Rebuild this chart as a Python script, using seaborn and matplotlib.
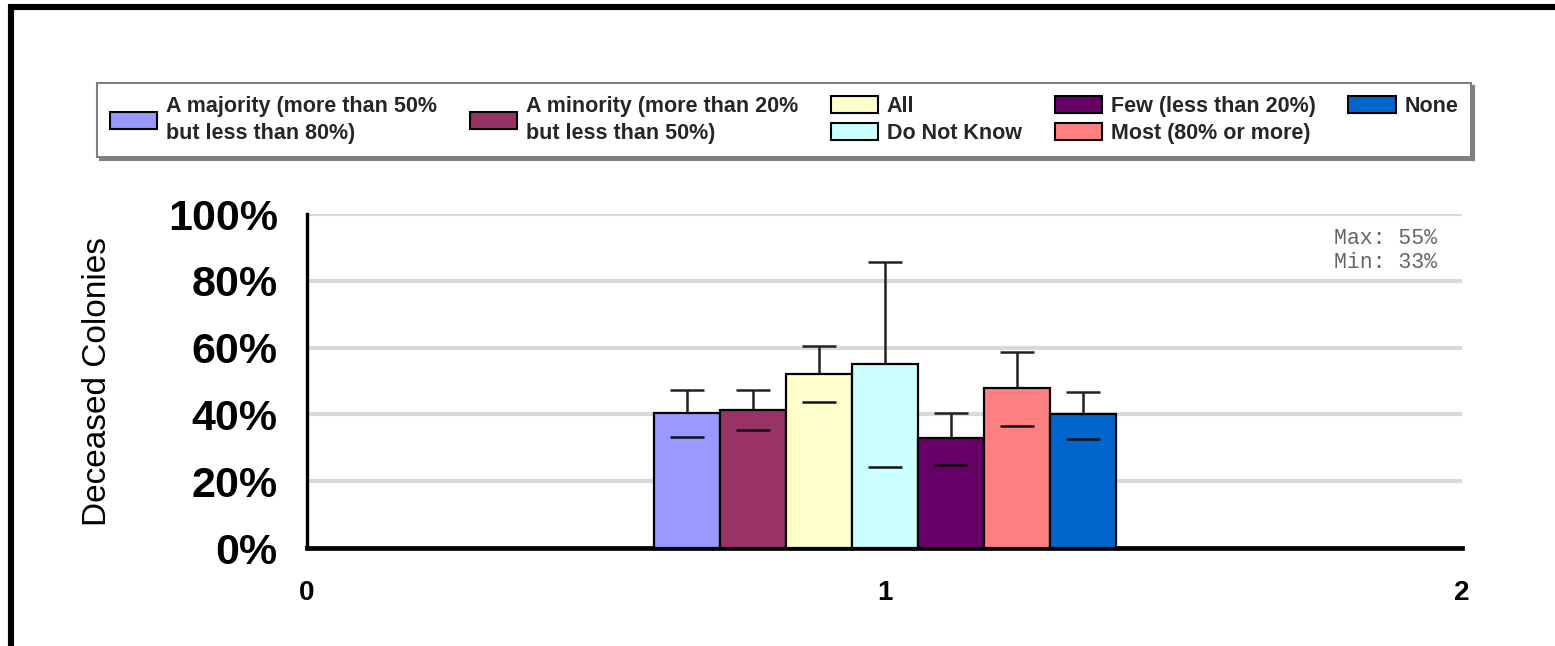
import numpy as np
import pandas as pd
import matplotlib
matplotlib.use("Agg")
import matplotlib.pyplot as plt
import matplotlib.patches as mpatches
from matplotlib.lines import Line2D
import seaborn as sns

# ---------------- data ----------------
categories = [
    "A majority (more than 50%\nbut less than 80%)",
    "A minority (more than 20%\nbut less than 50%)",
    "All",
    "Do Not Know",
    "Few (less than 20%)",
    "Most (80% or more)",
    "None",
]
x_values = [1, 1, 1, 1, 1, 1, 1]
values = [40.5, 41.2, 52.0, 55.0, 32.8, 47.9, 40.0]
err_low = [33.3, 35.2, 43.6, 24.3, 24.9, 36.4, 32.7]
err_high = [47.2, 47.2, 60.4, 85.5, 40.5, 58.6, 46.6]
colors = ["#9999FF", "#993366", "#FFFFCC", "#CCFFFF", "#660066", "#FF8080", "#0066CC"]
y_ticks = [0, 20, 40, 60, 80, 100]
x_ticks = [0, 1, 2]

df = pd.DataFrame({"x": x_values, "value": values, "cat": categories})

sns.set_style("white")
plt.rcParams["font.family"] = ["Liberation Sans", "DejaVu Sans"]

fig = plt.figure(figsize=(15.55, 6.46), dpi=100)
ax = fig.add_axes([307 / 1555, 1 - 548 / 646, 1155 / 1555, 334 / 646])

sns.barplot(data=df, x="x", y="value", hue="cat", hue_order=categories,
            palette=colors, native_scale=True, errorbar=None, saturation=1,
            edgecolor="black", linewidth=1.6, legend=False, ax=ax, zorder=3)

bars = sorted(ax.patches, key=lambda p: p.get_x())
centers = np.array([b.get_x() + b.get_width() / 2 for b in bars])
vals = np.array(values)
lo = vals - np.array(err_low)
hi = np.array(err_high) - vals
ax.errorbar(centers, vals, yerr=[lo, hi], fmt="none", ecolor="#222222",
            elinewidth=1.8, capsize=12, capthick=1.8, zorder=2)
ax.plot(centers, err_low, linestyle="none", marker="_", markersize=24,
        markeredgewidth=1.8, color="#111111", zorder=4)

ax.set_xlim(0, 2)
ax.set_ylim(0, 100)
ax.set_xticks(x_ticks)
ax.set_xticklabels([str(t) for t in x_ticks], fontsize=20, fontweight="bold")
ax.set_yticks(y_ticks)
ax.set_yticklabels([f"{t}%" for t in y_ticks], fontsize=31, fontweight="bold")
ax.set_xlabel("")
ax.set_ylabel("Deceased Colonies", fontsize=24, color="black")
ax.yaxis.set_label_coords(-0.168, 0.5)

ax.set_axisbelow(True)
ax.yaxis.grid(True, color="#d9d9d9", linewidth=3)
ax.xaxis.grid(False)
for s in ["top", "right"]:
    ax.spines[s].set_visible(False)
ax.spines["left"].set_linewidth(2.4)
ax.spines["left"].set_color("black")
ax.spines["bottom"].set_linewidth(3.4)
ax.spines["bottom"].set_color("black")
ax.tick_params(axis="y", direction="out", length=11, width=1.6, pad=10, colors="black")
ax.tick_params(axis="x", direction="out", length=6, width=1.6, pad=17, colors="black")

ax.text(0.978, 0.958, f"Max: {max(values):.0f}%\nMin: {min(values):.0f}%",
        transform=ax.transAxes, ha="right", va="top", family="Liberation Mono",
        fontsize=15.5, color="#666666", linespacing=1.2)

# ---------------- legend ----------------
PH = " "
handles = [mpatches.Patch(facecolor=c, edgecolor="black", linewidth=1.5) for c in colors]
blank = mpatches.Patch(facecolor="none", edgecolor="none")
order = [0, None, 1, None, 2, 3, 4, 5, 6, None]
leg_h = [handles[i] if i is not None else blank for i in order]
leg_l = [categories[i] if i is not None else PH for i in order]
leg = fig.legend(leg_h, leg_l, ncol=5, loc="upper left",
                 bbox_to_anchor=(97 / 1555, 1 - 83 / 646, (1471 - 97) / 1555, 0),
                 mode="expand", borderaxespad=0, fancybox=False,
                 shadow={"color": "#808080", "alpha": 1},
                 edgecolor="#808080", framealpha=1,
                 prop={"family": "Liberation Sans", "weight": "bold", "size": 15.5},
                 handlelength=2.2, handleheight=0.85, handletextpad=0.4,
                 labelspacing=0.28, borderpad=0.6, columnspacing=1.0)
leg.get_frame().set_linewidth(1.5)
leg._legend_handle_box.align = "top"
for col in leg._legend_handle_box.get_children():
    kids = col.get_children()
    kids[:] = [k for k in kids if k.get_children()[1].get_text() != PH]
for t in leg.get_texts():
    t.set_linespacing(1.38)

# outer border
fig.add_artist(Line2D([8 / 1555, 1], [1 - 7 / 646, 1 - 7 / 646], color="black",
                      linewidth=4.4, solid_capstyle="butt", transform=fig.transFigure))
fig.add_artist(Line2D([11 / 1555, 11 / 1555], [0, 1 - 4 / 646], color="black",
                      linewidth=4.4, solid_capstyle="butt", transform=fig.transFigure))

fig.savefig("out.png", dpi=100)
